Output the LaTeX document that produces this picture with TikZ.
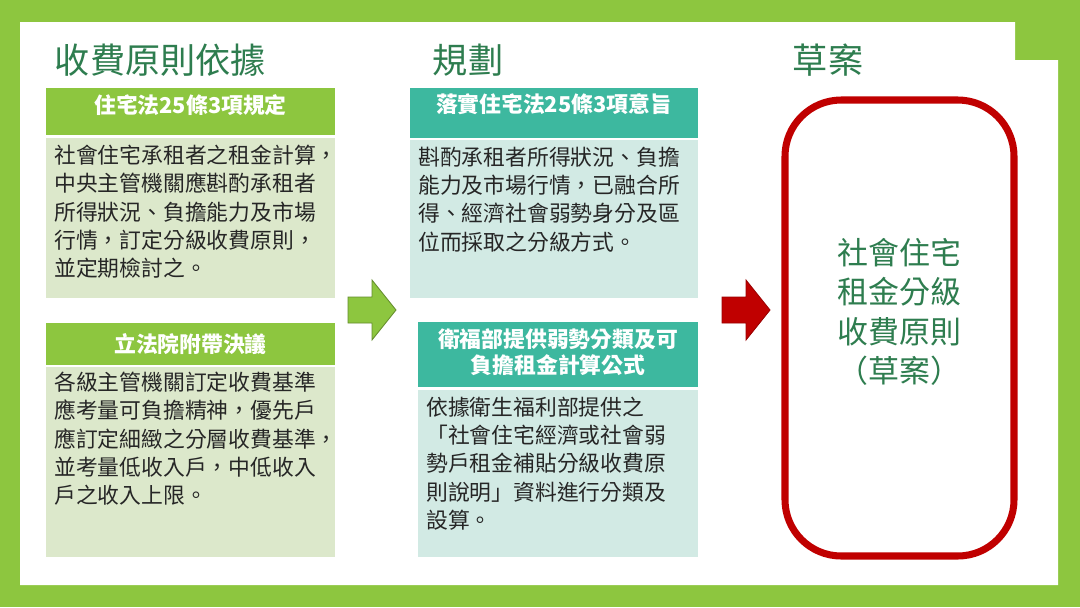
\documentclass[tikz,border=0pt]{standalone}
\usepackage{fontspec}
\setmainfont{Noto Sans CJK TC}
\usetikzlibrary{positioning,calc}
\definecolor{framegreen}{HTML}{8DC63F}
\definecolor{headgreen}{HTML}{8DC63F}
\definecolor{bodygreen}{HTML}{DCE8CB}
\definecolor{headteal}{HTML}{3DB89F}
\definecolor{bodyteal}{HTML}{D2EAE4}
\definecolor{titlegreen}{HTML}{2E7D4F}
\definecolor{draftred}{HTML}{C00000}
\begin{document}
\begin{tikzpicture}[x=0.025cm,y=-0.025cm,
    title/.style={anchor=west, text=titlegreen, font=\fontsize{25}{28}\selectfont},
    head/.style={text=white, font=\fontsize{15.5}{18.5}\selectfont\bfseries, align=center, inner sep=0pt},
    body/.style={anchor=north west, text=black!85, font=\fontsize{15.5}{20}\selectfont, align=left, inner sep=0pt}
]
% frame
\fill[framegreen] (0,0) rectangle (1080,607);
\fill[white] (20,22) -- (1015,22) -- (1015,60) -- (1058,60) -- (1058,585) -- (20,585) -- cycle;

% titles
\node[title] (t1) at (50,60) {收費原則依據};
\node[title] (t2) at (428,60) {規劃};
\node[title] (t3) at (788,60) {草案};

% left column
\fill[headgreen] (46,88) rectangle (335,135);
\node[head] (h1) at (190.5,105) {住宅法25條3項規定};
\fill[bodygreen] (46,138) rectangle (335,298);
\node[body] (b1) at (54,145) {社會住宅承租者之租金計算，\\中央主管機關應斟酌承租者\\所得狀況、負擔能力及市場\\行情，訂定分級收費原則，\\並定期檢討之。};

\fill[headgreen] (46,323) rectangle (335,365);
\node[head] (h2) at (190.5,344) {立法院附帶決議};
\fill[bodygreen] (46,367) rectangle (335,557);
\node[body] (b2) at (54,372) {各級主管機關訂定收費基準\\應考量可負擔精神，優先戶\\應訂定細緻之分層收費基準，\\並考量低收入戶，中低收入\\戶之收入上限。};

% middle column
\fill[headteal] (410,88) rectangle (698,138);
\node[head] (h3) at (554,104) {落實住宅法25條3項意旨};
\fill[bodyteal] (410,140) rectangle (698,298);
\node[body] (b3) at (418,147) {斟酌承租者所得狀況、負擔\\能力及市場行情，已融合所\\得、經濟社會弱勢身分及區\\位而採取之分級方式。};

\fill[headteal] (418,322) rectangle (698,387);
\node[head] (h4) at (558,352) {衛福部提供弱勢分類及可\\負擔租金計算公式};
\fill[bodyteal] (418,390) rectangle (698,557);
\node[body] (b4) at (426,397) {依據衛生福利部提供之\\「社會住宅經濟或社會弱\\勢戶租金補貼分級收費原\\則說明」資料進行分類及\\設算。};

% arrows
\fill[headgreen, draw=headgreen!70!black, line width=0.6pt]
  (348,297) -- (372,297) -- (372,280) -- (396,310) -- (372,340) -- (372,323) -- (348,323) -- cycle;
\fill[draftred, draw=draftred!80!black, line width=0.6pt]
  (722,297) -- (746,297) -- (746,280) -- (770,310) -- (746,340) -- (746,323) -- (722,323) -- cycle;

% draft box
\draw[draftred, line width=5pt, rounded corners=40] (785,100) rectangle (1014,556);
\node[text=titlegreen, font=\fontsize{22}{28}\selectfont, align=center] (d) at (899.5,312) {社會住宅\\租金分級\\收費原則\\（草案）};
\end{tikzpicture}
\end{document}
